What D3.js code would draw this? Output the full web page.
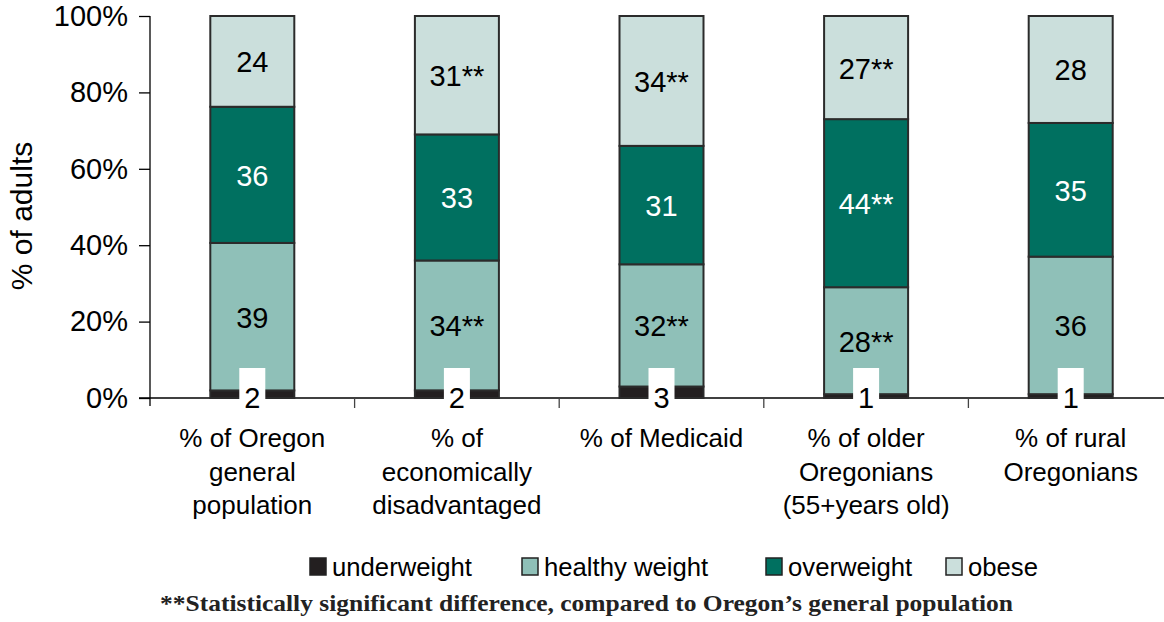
<!DOCTYPE html>
<html><head><meta charset="utf-8">
<script src="https://cdn.jsdelivr.net/npm/d3@7"></script>
<style>body{margin:0;background:#fff}svg{display:block}</style>
</head><body>
<svg id="c" width="1164" height="622"></svg>
<script>
const categories = [
  ["% of Oregon","general","population"],
  ["% of","economically","disadvantaged"],
  ["% of Medicaid"],
  ["% of older","Oregonians","(55+years old)"],
  ["% of rural","Oregonians"]
];
const seriesNames = ["underweight","healthy weight","overweight","obese"];
const underweight = [2, 2, 3, 1, 1];
const healthy = [39, 34, 32, 28, 36];
const overweight = [36, 33, 31, 44, 35];
const obese = [24, 31, 34, 27, 28];
const healthyLabels = ["39","34**","32**","28**","36"];
const overweightLabels = ["36","33","31","44**","35"];
const obeseLabels = ["24","31**","34**","27**","28"];
const underweightLabels = ["2","2","3","1","1"];
const yTicks = [0, 0.2, 0.4, 0.6, 0.8, 1.0];
const colors = ["#231f20","#8fc0b8","#007060","#cbdfdc"];
const footnote = "**Statistically significant difference, compared to Oregon\u2019s general population";

const svg = d3.select("#c");
const x0 = 150, x1 = 150 + 5*204.6, yTop = 16, yBot = 398;
const x = d3.scaleBand().domain(d3.range(5)).range([x0, x1]).paddingInner(0).paddingOuter(0);
const y = d3.scaleLinear().domain([0,1]).range([yBot, yTop]);
const barW = 84;
const sans = "'Liberation Sans', Arial, sans-serif";

const rows = d3.range(5).map(i => ({i, underweight: underweight[i], "healthy weight": healthy[i], overweight: overweight[i], obese: obese[i]}));
const stack = d3.stack().keys(seriesNames).offset(d3.stackOffsetExpand)(rows);
const labelsBy = [underweightLabels, healthyLabels, overweightLabels, obeseLabels];

// axes
const yAxis = d3.axisLeft(y).tickValues(yTicks).tickFormat(d3.format(".0%")).tickSize(11).tickPadding(11);
const gy = svg.append("g").attr("transform", `translate(${x0},0)`).call(yAxis);
gy.select(".domain").attr("stroke","#000").attr("stroke-width",1.3).attr("d", `M-0,${yTop}V${yBot+8}`);
gy.selectAll(".tick line").attr("stroke","#000").attr("stroke-width",1.3);
gy.selectAll(".tick text").attr("font-family",sans).attr("font-size",29).attr("fill","#000");

const xAxis = svg.append("g");
xAxis.append("line").attr("x1",x0-11).attr("x2",1164).attr("y1",yBot).attr("y2",yBot).attr("stroke","#000").attr("stroke-width",1.3);
d3.range(1,5).forEach(k => {
  xAxis.append("line").attr("x1",x0+k*x.bandwidth()).attr("x2",x0+k*x.bandwidth()).attr("y1",yBot).attr("y2",yBot+10).attr("stroke","#444").attr("stroke-width",1.3);
});

// bars
stack.forEach((layer, si) => {
  svg.append("g").selectAll("rect").data(layer).join("rect")
    .attr("x", (d,i) => x(i) + x.bandwidth()/2 - barW/2)
    .attr("width", barW)
    .attr("y", d => y(d[1]))
    .attr("height", d => y(d[0]) - y(d[1]))
    .attr("fill", colors[si])
    .attr("stroke", "#2b2b2b")
    .attr("stroke-width", 2);
});

// labels
stack.forEach((layer, si) => {
  if (si === 0) return;
  svg.append("g").selectAll("text").data(layer).join("text")
    .attr("x", (d,i) => x(i) + x.bandwidth()/2)
    .attr("y", d => (y(d[0]) + y(d[1]))/2 + 11)
    .attr("text-anchor","middle")
    .attr("font-family",sans)
    .attr("font-size",29)
    .attr("fill", si === 2 ? "#fff" : "#000")
    .text((d,i) => labelsBy[si][i]);
});
// underweight labels with white box
const ug = svg.append("g");
underweightLabels.forEach((t,i) => {
  const cx = x(i) + x.bandwidth()/2;
  ug.append("rect").attr("x", cx-13).attr("y", 368).attr("width", 26).attr("height", 44).attr("fill","#fff");
  ug.append("text").attr("x", cx).attr("y", 408).attr("text-anchor","middle")
    .attr("font-family",sans).attr("font-size",29).attr("fill","#000").text(t);
});

// category labels
categories.forEach((lines, i) => {
  const t = svg.append("text").attr("text-anchor","middle")
    .attr("font-family",sans).attr("font-size",26).attr("fill","#000");
  lines.forEach((l, j) => {
    t.append("tspan").attr("x", x(i) + x.bandwidth()/2).attr("y", 447 + j*33.5).text(l);
  });
});

// y title
svg.append("text").attr("transform","translate(32,216) rotate(-90)").attr("text-anchor","middle")
  .attr("font-family",sans).attr("font-size",30).attr("fill","#000").text("% of adults");

// legend
const legX = [310, 522, 766, 946];
const lg = svg.append("g");
seriesNames.forEach((n, i) => {
  lg.append("rect").attr("x", legX[i]).attr("y", 558).attr("width", 16).attr("height", 17)
    .attr("fill", colors[i]).attr("stroke","#222").attr("stroke-width",1.5);
  lg.append("text").attr("x", legX[i] + 22).attr("y", 576)
    .attr("font-family",sans).attr("font-size",25.7).attr("fill","#000").text(n);
});

// footnote
svg.append("text").attr("x", 160).attr("y", 611)
  .attr("font-family","'Liberation Serif', 'Times New Roman', serif").attr("font-weight","bold")
  .attr("font-size",23).attr("fill","#222")
  .attr("textLength", 853).attr("lengthAdjust","spacingAndGlyphs").text(footnote);
</script>
</body></html>
